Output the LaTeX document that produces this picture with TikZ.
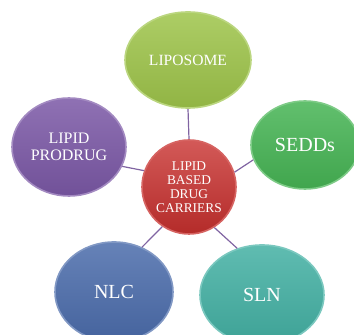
\documentclass[tikz,border=0pt]{standalone}
\usepackage{fontspec}
\setmainfont{Liberation Serif}
\usepackage{tikz}
\usetikzlibrary{shapes.geometric}

\definecolor{liposomegreen}{RGB}{158,196,74}
\definecolor{seddsgreen}{RGB}{70,180,84}
\definecolor{prodrugpurple}{RGB}{123,88,166}
\definecolor{hubred}{RGB}{200,48,46}
\definecolor{nlcblue}{RGB}{75,108,171}
\definecolor{slnteal}{RGB}{67,176,163}
\definecolor{linkpurple}{RGB}{128,100,162}

\begin{document}
\begin{tikzpicture}[x=1pt,y=1pt,
  carrier/.style={ellipse,inner sep=0pt,text=white,align=center,line width=1.6pt},
  hub/.style={circle,inner sep=0pt,minimum size=94pt,text=white,align=center,line width=1.6pt,
    draw=hubred!75!white,top color=hubred!80!white,bottom color=hubred!90!black},
  link/.style={draw=linkpurple,line width=1.2pt}]
\useasboundingbox (0,0) rectangle (354,335);
\clip (0,0) rectangle (354,335);
% outer carriers
\node[carrier,minimum width=126pt,minimum height=96pt,draw=liposomegreen!70!white,
  top color=liposomegreen!85!white,bottom color=liposomegreen!92!black,font=\fontsize{15.6}{17}\selectfont]
  (liposome) at (188,275) {LIPOSOME};
\node[carrier,minimum width=108pt,minimum height=88pt,draw=seddsgreen!70!white,
  top color=seddsgreen!85!white,bottom color=seddsgreen!92!black,font=\fontsize{20}{22}\selectfont]
  (sedds) at (305,190) {SEDDs};
\node[carrier,minimum width=114pt,minimum height=98pt,draw=prodrugpurple!70!white,
  top color=prodrugpurple!85!white,bottom color=prodrugpurple!92!black,font=\fontsize{16}{17}\selectfont]
  (prodrug) at (69,188) {LIPID\\PRODRUG};
\node[carrier,minimum width=118pt,minimum height=100pt,draw=nlcblue!70!white,
  top color=nlcblue!85!white,bottom color=nlcblue!92!black,font=\fontsize{20}{22}\selectfont]
  (nlc) at (114,43) {NLC};
\node[carrier,minimum width=124pt,minimum height=100pt,draw=slnteal!70!white,
  top color=slnteal!85!white,bottom color=slnteal!92!black,font=\fontsize{20}{22}\selectfont]
  (sln) at (262,40) {SLN};
% centre
\node[hub,font=\fontsize{13.4}{14}\selectfont] (hub) at (189,148) {LIPID\\BASED\\DRUG\\CARRIERS};
% links
\draw[link] (hub.north) -- (liposome.south);
\draw[link] (hub.160) -- (prodrug.-20);
\draw[link] (hub.18) -- (sedds.196);
\draw[link] (hub.236) -- (nlc.58);
\draw[link] (hub.302) -- (sln.118);
\end{tikzpicture}
\end{document}
